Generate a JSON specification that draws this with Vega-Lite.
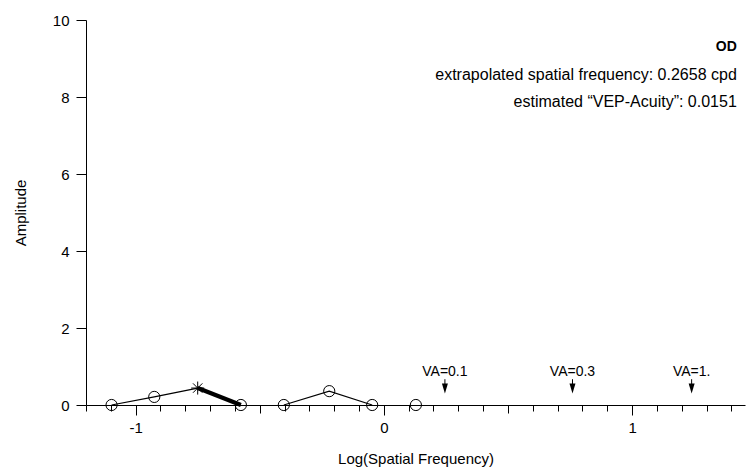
{
  "$schema": "https://vega.github.io/schema/vega-lite/v6.json",
  "width": 659,
  "height": 385,
  "autosize": {"type": "none"},
  "padding": {"left": 86, "top": 20, "right": 2, "bottom": 63},
  "config": {
    "font": "Liberation Sans",
    "view": {"stroke": null},
    "axis": {
      "grid": false,
      "domainColor": "black",
      "tickColor": "black",
      "labelColor": "black",
      "titleColor": "black",
      "labelFontSize": 15,
      "titleFontSize": 15,
      "titleFontWeight": "normal",
      "labelFont": "Liberation Sans",
      "titleFont": "Liberation Sans",
      "domainWidth": 1,
      "tickWidth": 1
    }
  },
  "datasets": {
    "segments": [
      {"segment": "A", "role": "data", "x": -1.097, "y": 0},
      {"segment": "A", "role": "data", "x": -0.925, "y": 0.21},
      {"segment": "A", "role": "data", "x": -0.750, "y": 0.44},
      {"segment": "B", "role": "regression", "x": -0.750, "y": 0.44},
      {"segment": "B", "role": "regression", "x": -0.576, "y": 0},
      {"segment": "C", "role": "data", "x": -0.403, "y": 0},
      {"segment": "C", "role": "data", "x": -0.220, "y": 0.36},
      {"segment": "C", "role": "data", "x": -0.047, "y": 0}
    ],
    "points": [
      {"marker": "circle", "x": -1.097, "y": 0},
      {"marker": "circle", "x": -0.925, "y": 0.21},
      {"marker": "star", "x": -0.750, "y": 0.44},
      {"marker": "circle", "x": -0.576, "y": 0},
      {"marker": "circle", "x": -0.403, "y": 0},
      {"marker": "circle", "x": -0.220, "y": 0.36},
      {"marker": "circle", "x": -0.047, "y": 0},
      {"marker": "circle", "x": 0.129, "y": 0}
    ],
    "va": [
      {"label": "VA=0.1", "x": 0.246},
      {"label": "VA=0.3", "x": 0.760},
      {"label": "VA=1.", "x": 1.240}
    ],
    "notes": [
      {"kind": "eye", "text": "OD", "x": 1.422, "y": 9.30},
      {"kind": "stat", "text": "extrapolated spatial frequency: 0.2658 cpd", "x": 1.422, "y": 8.56},
      {"kind": "stat", "text": "estimated “VEP-Acuity”: 0.0151", "x": 1.422, "y": 7.86}
    ]
  },
  "layer": [
    {
      "data": {"name": "segments"},
      "mark": {"type": "line", "color": "black"},
      "encoding": {
        "x": {
          "field": "x", "type": "quantitative",
          "scale": {"domain": [-1.2, 1.455], "nice": false, "zero": false},
          "axis": {
            "orient": "bottom",
            "values": [-1, 0, 1],
            "tickSize": 10,
            "labelPadding": 5,
            "labelExpr": "replace(datum.label, '−', '-')",
            "title": "Log(Spatial Frequency)",
            "titlePadding": 16,
            "labelFlush": false
          }
        },
        "y": {
          "field": "y", "type": "quantitative",
          "scale": {"domain": [0, 10], "nice": false},
          "axis": {
            "orient": "left",
            "values": [0, 2, 4, 6, 8, 10],
            "tickSize": 10,
            "labelPadding": 7,
            "title": "Amplitude",
            "titlePadding": 24,
            "labelFlush": false
          }
        },
        "detail": {"field": "segment"},
        "strokeWidth": {
          "field": "role", "type": "nominal",
          "scale": {"domain": ["data", "regression"], "range": [1.2, 4.2]},
          "legend": null
        }
      }
    },
    {
      "data": {"name": "points"},
      "transform": [{"filter": "datum.marker === 'circle'"}],
      "mark": {"type": "point", "shape": "circle", "filled": false, "stroke": "black", "strokeWidth": 1, "size": 125, "opacity": 1},
      "encoding": {
        "x": {
          "field": "x", "type": "quantitative",
          "axis": {
            "orient": "bottom",
            "values": [-1.2, -1.1, -0.9, -0.8, -0.7, -0.6, -0.4, -0.3, -0.2, -0.1, 0.1, 0.2, 0.3, 0.4, 0.6, 0.7, 0.8, 0.9, 1.1, 1.2, 1.3, 1.4],
            "tickSize": 6,
            "labels": false,
            "domain": false,
            "title": null
          }
        },
        "y": {"field": "y", "type": "quantitative", "axis": null}
      }
    },
    {
      "data": {"name": "points"},
      "transform": [{"filter": "datum.marker === 'star'"}],
      "mark": {"type": "point", "shape": "M-1,0L1,0M0,-1L0,1M-0.72,-0.72L0.72,0.72M-0.72,0.72L0.72,-0.72", "filled": false, "stroke": "black", "strokeWidth": 1, "size": 170, "opacity": 1},
      "encoding": {
        "x": {
          "field": "x", "type": "quantitative",
          "axis": {
            "orient": "bottom",
            "values": [-0.5, 0.5],
            "tickSize": 8,
            "labels": false,
            "domain": false,
            "title": null
          }
        },
        "y": {"field": "y", "type": "quantitative", "axis": null}
      }
    },
    {
      "data": {"name": "va"},
      "mark": {"type": "rule", "color": "black", "strokeWidth": 1},
      "encoding": {
        "x": {"field": "x", "type": "quantitative", "axis": null},
        "y": {"datum": 0.67, "type": "quantitative", "axis": null},
        "y2": {"datum": 0.45}
      }
    },
    {
      "data": {"name": "va"},
      "mark": {"type": "point", "shape": "M-0.6,-1L0.6,-1L0,1Z", "filled": true, "color": "black", "size": 100, "opacity": 1},
      "encoding": {
        "x": {"field": "x", "type": "quantitative", "axis": null},
        "y": {"datum": 0.43, "type": "quantitative", "axis": null}
      }
    },
    {
      "data": {"name": "va"},
      "mark": {"type": "text", "color": "black", "fontSize": 14, "font": "Liberation Sans", "baseline": "middle", "align": "center"},
      "encoding": {
        "x": {"field": "x", "type": "quantitative", "axis": null},
        "y": {"datum": 0.87, "type": "quantitative", "axis": null},
        "text": {"field": "label"}
      }
    },
    {
      "data": {"name": "notes"},
      "transform": [{"filter": "datum.kind === 'eye'"}],
      "mark": {"type": "text", "color": "black", "fontSize": 14, "fontWeight": "bold", "font": "Liberation Sans", "baseline": "middle", "align": "right"},
      "encoding": {
        "x": {"field": "x", "type": "quantitative", "axis": null},
        "y": {"field": "y", "type": "quantitative", "axis": null},
        "text": {"field": "text"}
      }
    },
    {
      "data": {"name": "notes"},
      "transform": [{"filter": "datum.kind === 'stat'"}],
      "mark": {"type": "text", "color": "black", "fontSize": 16, "font": "Liberation Sans", "baseline": "middle", "align": "right"},
      "encoding": {
        "x": {"field": "x", "type": "quantitative", "axis": null},
        "y": {"field": "y", "type": "quantitative", "axis": null},
        "text": {"field": "text"}
      }
    }
  ],
  "resolve": {"axis": {"x": "independent", "y": "independent"}}
}
